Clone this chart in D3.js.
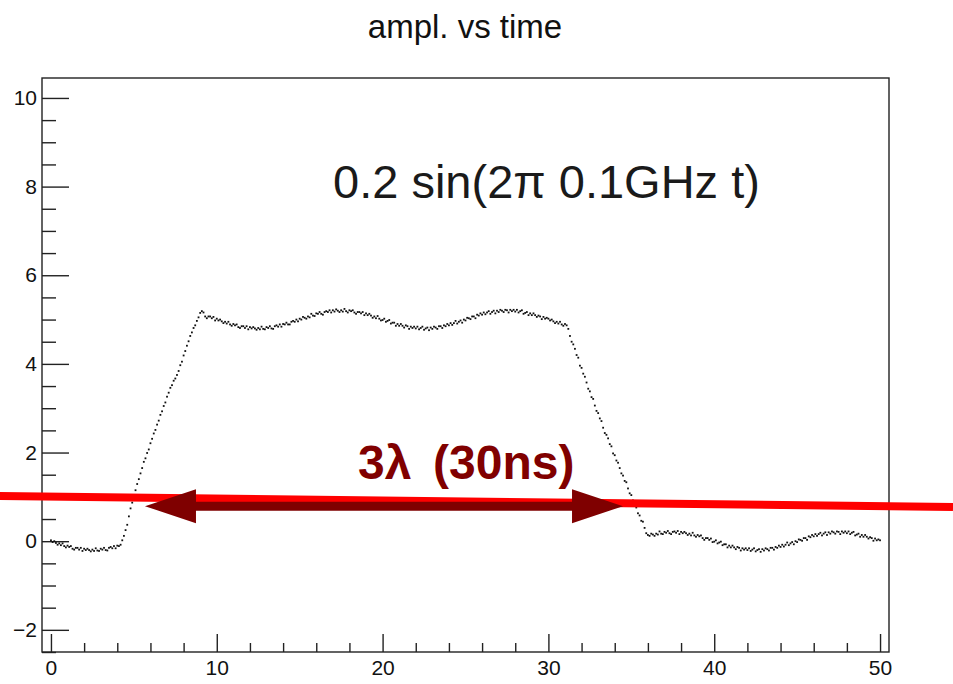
<!DOCTYPE html>
<html>
<head>
<meta charset="utf-8">
<script src="https://cdn.jsdelivr.net/npm/d3@7"></script>
<style>
  body { margin: 0; background: #fff; }
  text { font-family: "Liberation Sans", Arial, Helvetica, sans-serif; }
</style>
</head>
<body>
<div class="chart"></div>
<script>
var svgWidth = 953;
var svgHeight = 684;

// frame of the pad (pixels)
var frame = { left: 42, right: 889, top: 78, bottom: 652 };

// time sampling: 0.1 ns from 0 to 50 ns
var tStep = 0.1;

// amplitude, one value every 0.1 ns
var amplBase = [
  0.02, -0.02, 0.00, -0.04, -0.08, -0.05, -0.09, -0.05, -0.11, -0.14,
  -0.10, -0.13, -0.11, -0.17, -0.19, -0.15, -0.15, -0.19, -0.15, -0.22,
  -0.17, -0.20, -0.17, -0.20, -0.23, -0.19, -0.22, -0.16, -0.21, -0.22,
  -0.17, -0.19, -0.15, -0.20, -0.21, -0.15, -0.13, -0.16, -0.11, -0.16,
  -0.10, -0.11
];
var amplRise = [
  -0.08, 0.02, 0.12, 0.25, 0.37, 0.56, 0.74, 0.87,
  1.03, 1.15, 1.29, 1.40, 1.53, 1.65, 1.79, 1.87, 1.99, 2.07,
  2.21, 2.31, 2.43, 2.51, 2.63, 2.72, 2.85, 2.93, 3.05, 3.13,
  3.26, 3.35, 3.46, 3.52, 3.62, 3.67, 3.75, 3.84, 3.97, 4.05,
  4.19, 4.29, 4.41, 4.51, 4.63, 4.71, 4.81, 4.87, 4.97, 5.05,
  5.15, 5.19, 5.16
];
var amplTop = [
  5.07, 5.03, 5.07, 5.07, 5.03, 5.06, 4.98,
  5.02, 4.98, 5.00, 4.96, 4.92, 4.95, 4.91, 4.95, 4.89, 4.86,
  4.90, 4.87, 4.89, 4.83, 4.81, 4.85, 4.85, 4.81, 4.85, 4.78,
  4.83, 4.80, 4.83, 4.80, 4.77, 4.81, 4.78, 4.84, 4.79, 4.78,
  4.83, 4.81, 4.85, 4.80, 4.79, 4.85, 4.87, 4.84, 4.89, 4.84,
  4.90, 4.89, 4.93, 4.89, 4.89, 4.95, 4.97, 4.95, 5.00, 4.96,
  5.02, 5.00, 5.06, 5.04, 5.02, 5.07, 5.05, 5.13, 5.09, 5.08,
  5.14, 5.13, 5.17, 5.13, 5.11, 5.17, 5.19, 5.17, 5.21, 5.16,
  5.21, 5.18, 5.23, 5.20, 5.17, 5.21, 5.18, 5.24, 5.19, 5.16,
  5.21, 5.19, 5.21, 5.16, 5.13, 5.17, 5.17, 5.14, 5.17, 5.10,
  5.14, 5.10, 5.13, 5.09, 5.04, 5.07, 5.03, 5.08, 5.02, 4.98,
  4.99, 5.02, 4.95, 4.97, 4.99, 4.91, 4.93, 4.93, 4.86, 4.90,
  4.86, 4.90, 4.86, 4.82, 4.87, 4.85, 4.79, 4.84, 4.81, 4.84,
  4.80, 4.84, 4.78, 4.81, 4.84, 4.77, 4.80, 4.82, 4.76, 4.82,
  4.79, 4.84, 4.82, 4.79, 4.85, 4.85, 4.81, 4.87, 4.85, 4.90,
  4.87, 4.92, 4.88, 4.92, 4.97, 4.91, 4.95, 4.98, 4.93, 5.00,
  4.98, 5.04, 5.03, 5.01, 5.07, 5.07, 5.03, 5.11, 5.09, 5.14,
  5.11, 5.16, 5.12, 5.16, 5.19, 5.13, 5.17, 5.20, 5.14, 5.20,
  5.17, 5.22, 5.20, 5.17, 5.22, 5.21, 5.16, 5.22, 5.19, 5.22,
  5.18, 5.22, 5.16, 5.19, 5.21, 5.13, 5.15, 5.17, 5.10, 5.14,
  5.10, 5.14, 5.10, 5.06, 5.09, 5.07, 5.01, 5.06, 5.02, 5.04,
  5.02, 4.98, 5.00, 4.96, 4.92, 4.95, 4.91, 4.95, 4.89, 4.86, 4.90
];
var amplFall = [
  4.87, 4.79, 4.63, 4.50, 4.44, 4.34, 4.20, 4.14, 3.96, 3.91,
  3.78, 3.71, 3.58, 3.44, 3.38, 3.25, 3.21, 3.06, 2.94, 2.89,
  2.77, 2.71, 2.56, 2.44, 2.40, 2.32, 2.19, 2.14, 1.98, 1.94,
  1.82, 1.77, 1.65, 1.53, 1.48, 1.36, 1.33, 1.19, 1.08, 1.04,
  0.92, 0.88, 0.76, 0.63, 0.58, 0.46, 0.44, 0.30, 0.18, 0.14
];
var amplTail = [
  0.12, 0.17, 0.15, 0.12, 0.17, 0.15, 0.22, 0.17, 0.16,
  0.21, 0.19, 0.23, 0.18, 0.16, 0.21, 0.22, 0.19, 0.23, 0.16,
  0.21, 0.18, 0.21, 0.18, 0.14, 0.17, 0.13, 0.19, 0.13, 0.10,
  0.14, 0.11, 0.13, 0.07, 0.03, 0.07, 0.07, 0.03, 0.06, -0.02,
  -0.01, 0.02, -0.05, -0.03, -0.01, -0.09, -0.07, -0.07, -0.14, -0.10,
  -0.14, -0.10, -0.14, -0.18, -0.13, -0.15, -0.21, -0.16, -0.19, -0.16,
  -0.20, -0.16, -0.22, -0.19, -0.16, -0.23, -0.20, -0.18, -0.24, -0.18,
  -0.21, -0.16, -0.18, -0.21, -0.15, -0.15, -0.19, -0.13, -0.15, -0.10,
  -0.13, -0.08, -0.12, -0.08, -0.03, -0.09, -0.05, -0.02, -0.07, 0.00,
  -0.02, 0.04, 0.03, 0.01, 0.07, 0.07, 0.03, 0.11, 0.09, 0.14,
  0.11, 0.16, 0.12, 0.16, 0.19, 0.13, 0.17, 0.20, 0.14, 0.20,
  0.17, 0.22, 0.20, 0.17, 0.22, 0.21, 0.16, 0.22, 0.19, 0.22,
  0.18, 0.22, 0.16, 0.19, 0.21, 0.13, 0.15, 0.17, 0.10, 0.14,
  0.10, 0.14, 0.10, 0.06, 0.09, 0.07, 0.01, 0.06, 0.02, 0.04,
  0.02
];

var xMajor = [0, 10, 20, 30, 40, 50];
var yMajor = [-2, 0, 2, 4, 6, 8, 10];

// annotations, in data units
var redLine = [[-3.1, 1.02], [54.4, 0.77]];
var arrowEnds = [[5.67, 0.79], [34.5, 0.79]];

var ampl = amplBase.concat(amplRise, amplTop, amplFall, amplTail);
var points = ampl.map(function(v, i) { return { t: i * tStep, a: v }; });

var svg = d3.select(".chart")
  .append("svg")
  .attr("width", svgWidth)
  .attr("height", svgHeight);

var xScale = d3.scaleLinear()
  .domain([-0.54, 50.54])
  .range([frame.left, frame.right]);

var yScale = d3.scaleLinear()
  .domain([-2.5, 10.45])
  .range([frame.bottom, frame.top]);

var xMinor = d3.range(0, 50.01, 2).filter(function(d) { return xMajor.indexOf(d) < 0; });
var yMinor = d3.range(-2.5, 10.46, 0.5).filter(function(d) { return yMajor.indexOf(d) < 0; });

function styleAxis(g) {
  g.select(".domain").remove();
  g.selectAll("line").attr("stroke", "#222").attr("stroke-width", 1.4);
  g.selectAll("text")
    .attr("fill", "#111")
    .style("font-size", "21px")
    .style("font-family", "'Liberation Sans', Arial, Helvetica, sans-serif");
}

// y axis (ticks point into the frame)
svg.append("g")
  .attr("transform", `translate(${frame.left},0)`)
  .call(d3.axisLeft(yScale).tickValues(yMajor).tickSize(-27).tickPadding(5)
    .tickFormat(function(d) { return d < 0 ? "\u2212" + Math.abs(d) : d; }))
  .call(styleAxis);

svg.append("g")
  .attr("transform", `translate(${frame.left},0)`)
  .call(d3.axisLeft(yScale).tickValues(yMinor).tickSize(-14).tickFormat(""))
  .call(styleAxis);

// x axis
svg.append("g")
  .attr("transform", `translate(0,${frame.bottom})`)
  .call(d3.axisBottom(xScale).tickValues(xMajor).tickSize(-18).tickPadding(8))
  .call(styleAxis);

svg.append("g")
  .attr("transform", `translate(0,${frame.bottom})`)
  .call(d3.axisBottom(xScale).tickValues(xMinor).tickSize(-9).tickFormat(""))
  .call(styleAxis);

// frame
svg.append("rect")
  .attr("x", frame.left)
  .attr("y", frame.top)
  .attr("width", frame.right - frame.left)
  .attr("height", frame.bottom - frame.top)
  .attr("fill", "none")
  .attr("stroke", "#222")
  .attr("stroke-width", 1.4);

// data points
svg.append("g")
  .selectAll("rect")
  .data(points)
  .enter()
  .append("rect")
  .attr("x", d => xScale(d.t) - 0.9)
  .attr("y", d => yScale(d.a) - 0.9)
  .attr("width", 1.8)
  .attr("height", 1.8)
  .attr("fill", "#111");

// title
svg.append("text")
  .attr("x", 465)
  .attr("y", 38)
  .attr("text-anchor", "middle")
  .style("font-size", "33px")
  .attr("fill", "#111")
  .text("ampl. vs time");

// formula label
svg.append("text")
  .attr("x", 333)
  .attr("y", 198)
  .style("font-size", "47px")
  .attr("fill", "#1a1a1a")
  .text("0.2 sin(2\u03c0 0.1GHz t)");

// red horizontal line
svg.append("line")
  .attr("x1", xScale(redLine[0][0]))
  .attr("y1", yScale(redLine[0][1]))
  .attr("x2", xScale(redLine[1][0]))
  .attr("y2", yScale(redLine[1][1]))
  .attr("stroke", "#ff0000")
  .attr("stroke-width", 8);

// double arrow
var ax1 = xScale(arrowEnds[0][0]), ax2 = xScale(arrowEnds[1][0]);
var ay = yScale(arrowEnds[0][1]);
var headLen = 51, headHalf = 17, shaft = 9;
svg.append("path")
  .attr("d", `M${ax1},${ay} L${ax1 + headLen},${ay - headHalf} L${ax1 + headLen},${ay - shaft / 2}` +
    ` L${ax2 - headLen},${ay - shaft / 2} L${ax2 - headLen},${ay - headHalf} L${ax2},${ay}` +
    ` L${ax2 - headLen},${ay + headHalf} L${ax2 - headLen},${ay + shaft / 2}` +
    ` L${ax1 + headLen},${ay + shaft / 2} L${ax1 + headLen},${ay + headHalf} Z`)
  .attr("fill", "#7f0000");

// arrow label
var lab = svg.append("text")
  .attr("x", 358)
  .attr("y", 479)
  .style("font-size", "48px")
  .style("font-weight", "bold")
  .attr("fill", "#800000");
lab.append("tspan").text("3\u03bb");
lab.append("tspan").attr("x", 433).text("(30ns)");
</script>
</body>
</html>
